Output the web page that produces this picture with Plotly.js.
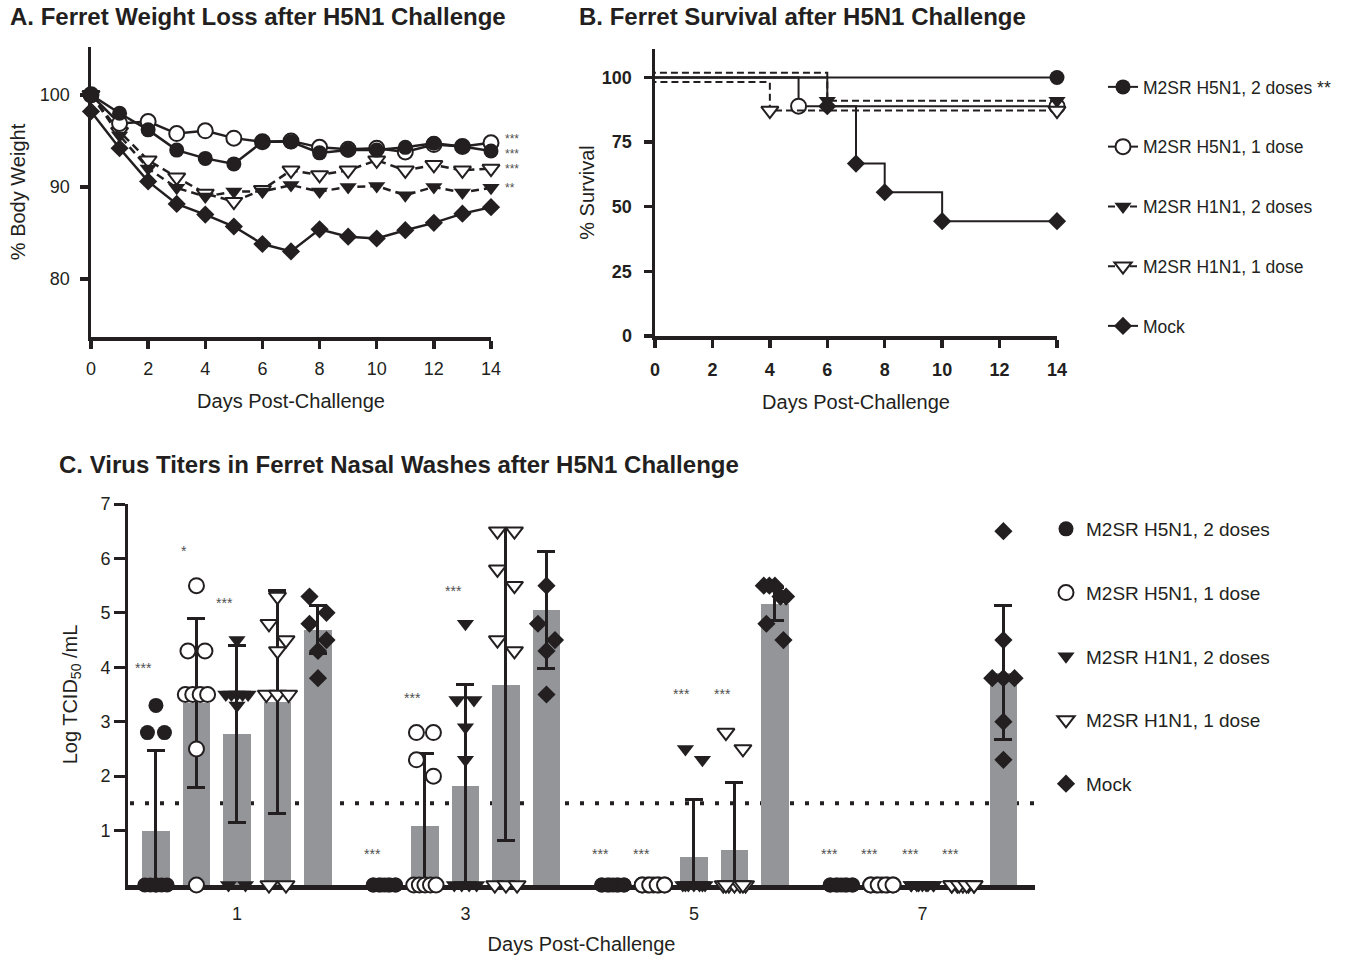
<!DOCTYPE html>
<html><head><meta charset="utf-8">
<script src="https://cdn.plot.ly/plotly-3.0.1.min.js"></script>
<style>body{margin:0;background:#fff}#chart{width:1360px;height:960px}</style>
</head><body><div id="chart"></div>
<script>
// ---------- DATA ----------
const groupNames = ['M2SR H5N1, 2 doses', 'M2SR H5N1, 1 dose', 'M2SR H1N1, 2 doses', 'M2SR H1N1, 1 dose', 'Mock'];
const survivalNames = ['M2SR H5N1, 2 doses **', 'M2SR H5N1, 1 dose', 'M2SR H1N1, 2 doses', 'M2SR H1N1, 1 dose', 'Mock'];

// A. % body weight, days 0..14
const weightDays = [0,1,2,3,4,5,6,7,8,9,10,11,12,13,14];
const weightH5N1x2 = [100, 98.0, 96.2, 94.0, 93.1, 92.5, 94.9, 94.9, 93.7, 94.0, 94.0, 94.3, 94.75, 94.4, 93.9];
const weightH5N1x1 = [100, 96.9, 97.1, 95.8, 96.1, 95.3, 94.9, 95.0, 94.3, 94.1, 94.2, 93.8, 94.6, 94.4, 94.8];
const weightH1N1x2 = [100, 95.6, 92.0, 89.9, 88.95, 89.5, 89.5, 90.2, 89.5, 90.0, 90.1, 89.1, 90.0, 89.4, 89.9];
const weightH1N1x1 = [100, 96.0, 92.9, 91.05, 89.3, 88.4, 89.7, 91.8, 91.3, 91.8, 92.9, 91.8, 92.4, 91.8, 92.0];
const weightMock   = [98.2, 94.2, 90.6, 88.15, 87.0, 85.7, 83.8, 83.0, 85.4, 84.6, 84.4, 85.3, 86.1, 87.1, 87.8];
const weightSig    = {H5N1x1: '***', H5N1x2: '***', H1N1x1: '***', H1N1x2: '**'};

// B. % survival (Kaplan-Meier steps; event days)
const survDaysH5N1x2 = [0, 14];            const survH5N1x2 = [100, 100];
const survDaysH5N1x1 = [0, 5, 14];         const survH5N1x1 = [100, 88.9, 88.9];
const survDaysH1N1x2 = [0, 6, 14];         const survH1N1x2 = [101.8, 91.0, 91.0];
const survDaysH1N1x1 = [0, 4, 14];         const survH1N1x1 = [98.2, 87.2, 87.2];
const survDaysMock   = [0, 6, 7, 8, 10, 14]; const survMock = [100, 88.9, 66.7, 55.6, 44.4, 44.4];

// C. Virus titers (log TCID50/mL) per ferret, days 1,3,5,7
const titerDays = ['1', '3', '5', '7'];
const titerH5N1x2 = [[3.3,2.8,2.8,0,0,0,0,0,0],[0,0,0,0,0,0,0,0,0],[0,0,0,0,0,0,0,0,0],[0,0,0,0,0,0,0,0,0]];
const titerH5N1x1 = [[5.5,4.3,4.3,3.5,3.5,3.5,3.5,2.5,0],[2.8,2.8,2.3,2.0,0,0,0,0,0],[0,0,0,0,0,0,0,0,0],[0,0,0,0,0,0,0,0,0]];
const titerH1N1x2 = [[4.5,3.5,3.5,3.5,3.5,3.5,3.3,0,0],[4.8,3.4,3.4,2.9,2.3,0,0,0,0],[2.5,2.3,0,0,0,0,0,0,0],[0,0,0,0,0,0,0,0,0]];
const titerH1N1x1 = [[5.3,4.8,4.5,4.3,3.5,3.5,3.5,0,0],[6.5,6.5,5.8,5.5,4.5,4.3,0,0,0],[2.8,2.5,0,0,0,0,0,0,0],[0,0,0,0,0,0,0,0,0]];
const titerMock   = [[5.3,5.0,4.8,4.5,4.3,3.8],[5.5,4.8,4.5,4.3,3.5],[5.5,5.5,5.5,5.3,5.3,4.8,4.5],[6.5,4.5,3.8,3.8,3.8,3.0,2.3]];
// group means and SD (bars and error bars)
const meanH5N1x2 = [0.99, 0, 0, 0];     const sdH5N1x2 = [1.49, 0, 0, 0];
const meanH5N1x1 = [3.35, 1.08, 0, 0];  const sdH5N1x1 = [1.55, 1.34, 0, 0];
const meanH1N1x2 = [2.77, 1.82, 0.51, 0]; const sdH1N1x2 = [1.63, 1.87, 1.07, 0];
const meanH1N1x1 = [3.36, 3.67, 0.64, 0]; const sdH1N1x1 = [2.05, 2.86, 1.24, 0];
const meanMock   = [4.69, 5.05, 5.16, 3.9]; const sdMock = [0.44, 1.08, 0.3, 1.23];
const detectionLimit = 1.5;
// significance marks: [day index, group index, height, text]
const titerSig = [[0,0,4.04,'***'],[0,1,6.19,'*'],[0,2,5.24,'***'],
                  [1,0,0.62,'***'],[1,1,3.49,'***'],[1,2,5.46,'***'],
                  [2,0,0.62,'***'],[2,1,0.62,'***'],[2,2,3.57,'***'],[2,3,3.57,'***'],
                  [3,0,0.62,'***'],[3,1,0.62,'***'],[3,2,0.62,'***'],[3,3,0.62,'***']];

// ---------- STYLE ----------
const INK = '#231f20';
const FONT = 'Liberation Sans, Arial, Helvetica, sans-serif';
const BAR = '#939598';
const STAR = '#505050';
const sym = [
  {symbol: 'circle', color: INK, open: false},
  {symbol: 'circle', color: '#ffffff', open: true},
  {symbol: 'triangle-down', color: INK, open: false},
  {symbol: 'triangle-down', color: '#ffffff', open: true},
  {symbol: 'diamond', color: INK, open: false}
];
const dashA = '8px,5px';
const dashB = '7px,4px';

const traces = [];
const annotations = [];

// ---------- A ----------
const weightSeries = [
  {y: weightMock, g: 4, dash: 'solid'},
  {y: weightH1N1x1, g: 3, dash: dashA, sig: weightSig.H1N1x1, nudge: 0},
  {y: weightH1N1x2, g: 2, dash: dashA, sig: weightSig.H1N1x2, nudge: 0},
  {y: weightH5N1x1, g: 1, dash: 'solid', sig: weightSig.H5N1x1, nudge: 4},
  {y: weightH5N1x2, g: 0, dash: 'solid', sig: weightSig.H5N1x2, nudge: -3}
];
weightSeries.forEach(s => {
  const m = sym[s.g];
  traces.push({
    type: 'scatter', mode: 'lines+markers', x: weightDays, y: s.y, xaxis: 'x', yaxis: 'y',
    name: groupNames[s.g], showlegend: false, cliponaxis: false,
    line: {color: INK, width: 2.5, dash: s.dash},
    marker: {symbol: m.symbol, size: s.g === 4 ? 14 : 15, color: m.color, line: {color: INK, width: m.open ? 2 : 0}}
  });
  if (s.sig) {
    annotations.push({xref: 'x', yref: 'y', x: 14, y: s.y[s.y.length - 1], text: s.sig, showarrow: false,
      xanchor: 'left', xshift: 12, yshift: s.nudge, font: {family: FONT, size: 12, color: STAR}});
  }
});

// ---------- B ----------
const survSeries = [
  {x: survDaysH5N1x2, y: survH5N1x2, g: 0, dash: 'solid'},
  {x: survDaysH5N1x1, y: survH5N1x1, g: 1, dash: 'solid'},
  {x: survDaysH1N1x2, y: survH1N1x2, g: 2, dash: dashB},
  {x: survDaysH1N1x1, y: survH1N1x1, g: 3, dash: dashB},
  {x: survDaysMock, y: survMock, g: 4, dash: 'solid'}
];
survSeries.forEach(s => {
  const m = sym[s.g];
  // reversed order with 'vh' gives the same step path; first point (day 0) has no marker
  const xs = s.x.slice().reverse();
  const ys = s.y.slice().reverse();
  const n = xs.length;
  const fill = xs.map((_, i) => i === n - 1 ? 'rgba(0,0,0,0)' : m.color);
  const edge = xs.map((_, i) => i === n - 1 ? 'rgba(0,0,0,0)' : INK);
  traces.push({
    type: 'scatter', mode: 'lines+markers', x: xs, y: ys, xaxis: 'x2', yaxis: 'y2',
    name: survivalNames[s.g], legend: 'legend', legendgroup: 'b' + s.g, cliponaxis: false,
    line: {color: INK, width: 2, dash: s.dash, shape: 'vh'},
    marker: {symbol: m.symbol, size: s.g === 4 ? 14 : 15, color: fill, line: {color: edge, width: m.open ? 2 : 0}}
  });
});

// ---------- C ----------
const DAY_STEP = 5.64;
const titerGroups = [
  {pts: titerH5N1x2, mean: meanH5N1x2, sd: sdH5N1x2},
  {pts: titerH5N1x1, mean: meanH5N1x1, sd: sdH5N1x1},
  {pts: titerH1N1x2, mean: meanH1N1x2, sd: sdH1N1x2},
  {pts: titerH1N1x1, mean: meanH1N1x1, sd: sdH1N1x1},
  {pts: titerMock, mean: meanMock, sd: sdMock}
];
const slotX = (d, g) => d * DAY_STEP + (g - 2);

function spreadOffsets(values) {
  const idx = values.map((v, i) => i).sort((a, b) => values[b] - values[a]);
  const offs = new Array(values.length).fill(0);
  let row = [];
  const flush = () => {
    const k = row.length;
    const span = k > 1 ? Math.min(0.42 * (k - 1), 0.55) : 0;
    row.forEach((i, j) => { offs[i] = k > 1 ? -span / 2 + span * j / (k - 1) : 0; });
    row = [];
  };
  idx.forEach(i => {
    if (row.length && (values[row[0]] - values[i] > 0.32 || row.length >= 5)) flush();
    row.push(i);
  });
  flush();
  return offs;
}

// bars with SD error bars
titerGroups.forEach((G, g) => {
  traces.push({
    type: 'bar', x: titerDays.map((_, d) => slotX(d, g)), y: G.mean, width: 0.68,
    xaxis: 'x3', yaxis: 'y3', showlegend: false, name: groupNames[g],
    marker: {color: BAR, line: {width: 0}},
    error_y: {type: 'data', array: G.sd, visible: true, color: INK, thickness: 3, width: 9}
  });
});
// individual points
titerGroups.forEach((G, g) => {
  const xs = [], ys = [];
  G.pts.forEach((vals, d) => {
    const offs = spreadOffsets(vals);
    vals.forEach((v, i) => { xs.push(slotX(d, g) + offs[i]); ys.push(v); });
  });
  const m = sym[g];
  traces.push({
    type: 'scatter', mode: 'markers', x: xs, y: ys, xaxis: 'x3', yaxis: 'y3',
    name: groupNames[g], legend: 'legend2', legendgroup: 'c' + g, cliponaxis: false,
    marker: {symbol: m.symbol, size: g === 4 ? 14 : 15, color: m.color, line: {color: INK, width: m.open ? 2 : 0}}
  });
});
titerSig.forEach(([d, g, h, t]) => {
  annotations.push({xref: 'x3', yref: 'y3', x: slotX(d, g) - 0.3, y: h, text: t, showarrow: false,
    xanchor: 'center', yshift: -3, font: {family: FONT, size: 14, color: STAR}});
});

// panel titles
const titles = [
  ['A. Ferret Weight Loss after H5N1 Challenge', 8, 17],
  ['B. Ferret Survival after H5N1 Challenge', 577, 17],
  ['C. Virus Titers in Ferret Nasal Washes after H5N1 Challenge', 57, 464]
];
titles.forEach(([t, px, py]) => annotations.push({
  xref: 'paper', yref: 'paper', x: px / 1360, y: 1 - py / 960, xanchor: 'left', yanchor: 'middle',
  text: t, showarrow: false, font: {family: FONT, size: 24, color: INK, weight: 700}
}));

// ---------- LAYOUT ----------
const W = 1360, H = 960;
const dx = (a, b) => [a / W, b / W];
const dy = (top, bottom) => [1 - bottom / H, 1 - top / H];
const baseAxis = {
  showgrid: false, zeroline: false, showline: true, linecolor: INK, linewidth: 3.5,
  ticks: 'outside', ticklen: 8, tickwidth: 3.5, tickcolor: INK, layer: 'below traces',
  tickfont: {family: FONT, size: 18, color: INK}, fixedrange: true
};
const tf = (t, s) => ({text: t, font: {family: FONT, size: s || 20, color: INK}});

const layout = {
  width: W, height: H, margin: {l: 0, r: 0, t: 0, b: 0},
  paper_bgcolor: '#ffffff', plot_bgcolor: '#ffffff',
  font: {family: FONT, color: INK},
  showlegend: true,
  xaxis: Object.assign({}, baseAxis, {domain: dx(91, 491), range: [0, 14], tickvals: [0,2,4,6,8,10,12,14],
    anchor: 'y', ticklabelstandoff: 5, title: Object.assign(tf('Days Post-Challenge'), {standoff: 17})}),
  yaxis: Object.assign({}, baseAxis, {domain: dy(47, 337), range: [73.7, 105.2], tickvals: [80, 90, 100],
    anchor: 'x', ticklabelstandoff: 6, title: Object.assign(tf('% Body Weight'), {standoff: 10})}),
  xaxis2: Object.assign({}, baseAxis, {domain: dx(655, 1057), range: [0, 14], tickvals: [0,2,4,6,8,10,12,14],
    anchor: 'y2', ticklabelstandoff: 7, tickfont: {family: FONT, size: 18, color: INK, weight: 700},
    title: Object.assign(tf('Days Post-Challenge'), {standoff: 17})}),
  yaxis2: Object.assign({}, baseAxis, {domain: dy(49, 336), range: [0, 111], tickvals: [0, 25, 50, 75, 100],
    anchor: 'x2', ticklabelstandoff: 8, tickfont: {family: FONT, size: 18, color: INK, weight: 700},
    title: Object.assign(tf('% Survival'), {standoff: 3})}),
  xaxis3: Object.assign({}, baseAxis, {domain: dx(128, 1035), range: [-2.69, 19.7],
    tickvals: titerDays.map((_, d) => slotX(d, 2)), ticktext: titerDays, ticks: '', linewidth: 5,
    anchor: 'y3', ticklabelstandoff: 8, title: Object.assign(tf('Days Post-Challenge'), {standoff: 16})}),
  yaxis3: Object.assign({}, baseAxis, {domain: dy(504, 885), range: [0, 7], tickvals: [1,2,3,4,5,6,7],
    ticklen: 11, tickwidth: 3, linewidth: 3, anchor: 'x3',
    title: Object.assign(tf('Log TCID<sub>50</sub> /mL'), {standoff: 18})}),
  legend: {x: 1103 / W, y: 1 - 69 / H, xanchor: 'left', yanchor: 'top', bgcolor: 'rgba(0,0,0,0)',
    font: {family: FONT, size: 17.5, color: INK}, tracegroupgap: 34, traceorder: 'grouped'},
  legend2: {x: 1046 / W, y: 1 - 510 / H, xanchor: 'left', yanchor: 'top', bgcolor: 'rgba(0,0,0,0)',
    font: {family: FONT, size: 19, color: INK}, tracegroupgap: 36, traceorder: 'grouped'},
  bargap: 0,
  shapes: [{type: 'line', xref: 'paper', yref: 'y3', x0: 130 / W, x1: 1035 / W, y0: detectionLimit, y1: detectionLimit,
    layer: 'below', line: {color: INK, width: 4, dash: '4px,11px'}}],
  annotations: annotations
};

Plotly.newPlot('chart', traces, layout, {staticPlot: true, displayModeBar: false});
</script>
</body></html>
